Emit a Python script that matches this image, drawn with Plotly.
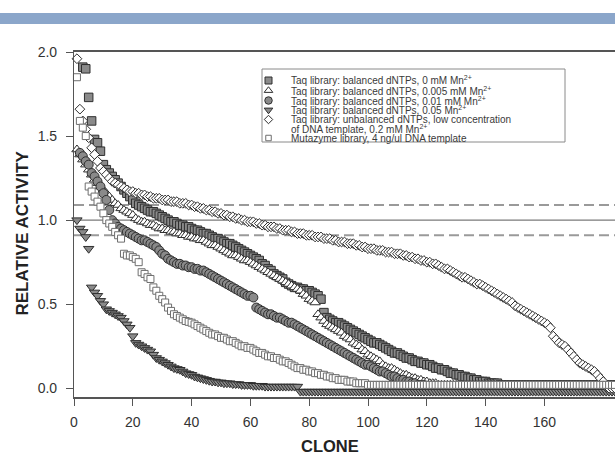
import plotly.graph_objects as go

# ---------------- data ----------------
x_ticks = [0, 20, 40, 60, 80, 100, 120, 140, 160]
y_ticks = [0.0, 0.5, 1.0, 1.5, 2.0]

legend_lines = [
    "Taq library: balanced dNTPs, 0 mM Mn<sup>2+</sup>",
    "Taq library: balanced dNTPs, 0.005 mM Mn<sup>2+</sup>",
    "Taq library: balanced dNTPs, 0.01 mM Mn<sup>2+</sup>",
    "Taq library: balanced dNTPs, 0.05 Mn<sup>2+</sup>",
    "Taq library: unbalanced dNTPs, low concentration",
    "of DNA template, 0.2 mM Mn<sup>2+</sup>",
    "Mutazyme library, 4 ng/ul DNA template",
]

# first clone number of each series
start_mn0 = 3
start_mn0005 = 1
start_mn001 = 2
start_mn005 = 1
start_unbal = 1
start_muta = 1

act_mn0 = [
    1.91, 1.90, 1.73, 1.59, 1.48, 1.46, 1.41, 1.33, 1.30, 1.28,
    1.26, 1.24, 1.22, 1.20, 1.18, 1.16, 1.14, 1.12, 1.10, 1.09,
    1.08, 1.07, 1.06, 1.05, 1.05, 1.04, 1.03, 1.02, 1.01, 1.00,
    0.99, 0.99, 0.98, 0.97, 0.97, 0.96, 0.96, 0.95, 0.94, 0.94,
    0.93, 0.92, 0.92, 0.91, 0.90, 0.89, 0.89, 0.88, 0.87, 0.86,
    0.86, 0.85, 0.84, 0.83, 0.82, 0.81, 0.80, 0.79, 0.78, 0.77,
    0.76, 0.74, 0.73, 0.71, 0.70, 0.68, 0.67, 0.66, 0.65, 0.63,
    0.62, 0.61, 0.60, 0.60, 0.59, 0.59, 0.58, 0.58, 0.57, 0.56,
    0.55, 0.53, 0.45, 0.42, 0.41, 0.40, 0.39, 0.39, 0.38, 0.37,
    0.36, 0.35, 0.34, 0.33, 0.32, 0.31, 0.30, 0.29, 0.28, 0.27,
    0.27, 0.26, 0.25, 0.24, 0.23, 0.22, 0.21, 0.21, 0.20, 0.19,
    0.18, 0.18, 0.17, 0.16, 0.16, 0.15, 0.15, 0.14, 0.14, 0.13,
    0.12, 0.12, 0.11, 0.11, 0.10, 0.09, 0.09, 0.08, 0.08, 0.07,
    0.07, 0.06, 0.06, 0.05, 0.05, 0.04, 0.04, 0.04, 0.03, 0.03,
    0.03, 0.03, 0.02, 0.02, 0.02, 0.02, 0.02, 0.02, 0.02, 0.02,
    0.02, 0.02, 0.02, 0.02, 0.02, 0.02, 0.02, 0.02, 0.02, 0.02,
    0.02, 0.02, 0.02, 0.02, 0.02, 0.02, 0.02, 0.02, 0.02, 0.02,
    0.02, 0.02, 0.02, 0.02, 0.02, 0.02, 0.02, 0.02, 0.02, 0.02,
    0.02, 0.02,
]

act_mn0005 = [
    1.42, 1.39, 1.36, 1.33, 1.30, 1.27, 1.24, 1.22, 1.20, 1.18,
    1.16, 1.14, 1.12, 1.10, 1.09, 1.07, 1.06, 1.05, 1.04, 1.03,
    1.01, 1.00, 0.99, 0.99, 0.98, 0.97, 0.97, 0.96, 0.95, 0.95,
    0.94, 0.94, 0.93, 0.93, 0.92, 0.92, 0.91, 0.91, 0.90, 0.90,
    0.89, 0.89, 0.88, 0.88, 0.87, 0.86, 0.85, 0.85, 0.84, 0.83,
    0.82, 0.81, 0.80, 0.79, 0.79, 0.78, 0.77, 0.76, 0.76, 0.75,
    0.74, 0.73, 0.72, 0.71, 0.70, 0.69, 0.68, 0.67, 0.66, 0.65,
    0.64, 0.63, 0.62, 0.61, 0.60, 0.59, 0.58, 0.56, 0.55, 0.53,
    0.52, 0.51, 0.44, 0.42, 0.40, 0.38, 0.37, 0.36, 0.35, 0.34,
    0.33, 0.31, 0.30, 0.29, 0.27, 0.26, 0.25, 0.23, 0.22, 0.20,
    0.19, 0.18, 0.17, 0.16, 0.14, 0.13, 0.12, 0.12, 0.11, 0.10,
    0.09, 0.08, 0.08, 0.07, 0.06, 0.06, 0.05, 0.05, 0.04, 0.04,
    0.03, 0.03, 0.03, 0.02, 0.02, 0.02, 0.02, 0.02, 0.02, 0.02,
    0.02, 0.02, 0.02, 0.02, 0.02, 0.02, 0.02, 0.02, 0.02, 0.02,
    0.02, 0.02, 0.02, 0.02, 0.02, 0.02, 0.02, 0.02, 0.02, 0.02,
    0.02, 0.02, 0.02, 0.02, 0.02, 0.02, 0.02, 0.02, 0.02, 0.02,
    0.02, 0.02, 0.02, 0.02, 0.02, 0.02, 0.02, 0.02, 0.02, 0.02,
    0.02, 0.02, 0.02, 0.02, 0.02, 0.02, 0.02, 0.02, 0.02, 0.02,
    0.02, 0.02, 0.02, 0.02,
]

act_mn001 = [
    1.40, 1.38, 1.35, 1.33, 1.28, 1.26, 1.23, 1.20, 1.16, 1.12,
    1.06, 1.00, 0.98, 0.96, 0.95, 0.94, 0.93, 0.92, 0.91, 0.90,
    0.89, 0.88, 0.88, 0.87, 0.86, 0.85, 0.84, 0.82, 0.80, 0.79,
    0.77, 0.76, 0.75, 0.74, 0.74, 0.73, 0.73, 0.72, 0.72, 0.71,
    0.71, 0.70, 0.70, 0.69, 0.68, 0.67, 0.66, 0.65, 0.64, 0.63,
    0.62, 0.61, 0.60, 0.59, 0.58, 0.57, 0.56, 0.55, 0.55, 0.54,
    0.48, 0.47, 0.46, 0.45, 0.44, 0.44, 0.43, 0.42, 0.42, 0.41,
    0.40, 0.39, 0.39, 0.38, 0.37, 0.36, 0.35, 0.34, 0.33, 0.32,
    0.31, 0.30, 0.29, 0.28, 0.27, 0.26, 0.25, 0.24, 0.23, 0.22,
    0.21, 0.20, 0.19, 0.18, 0.17, 0.16, 0.15, 0.14, 0.14, 0.13,
    0.12, 0.11, 0.10, 0.10, 0.09, 0.08, 0.07, 0.07, 0.06, 0.05,
    0.05, 0.04, 0.04, 0.03, 0.03, 0.02, 0.02, 0.02, 0.01, 0.01,
    0.01, 0.01, 0.01, 0.01, 0.01, 0.01, 0.01, 0.01, 0.01, 0.01,
    0.01, 0.01, 0.01, 0.01, 0.01, 0.01, 0.01, 0.01, 0.01, 0.01,
    0.01, 0.01, 0.01, 0.01, 0.01, 0.01, 0.01, 0.01, 0.01, 0.01,
    0.01, 0.01, 0.01, 0.01, 0.01, 0.01, 0.01, 0.01, 0.01, 0.01,
    0.01, 0.01, 0.01, 0.01, 0.01, 0.01, 0.01, 0.01, 0.01, 0.01,
    0.01, 0.01, 0.01, 0.01, 0.01, 0.01, 0.01, 0.01, 0.01, 0.01,
    0.01, 0.01, 0.01,
]

act_mn005 = [
    1.00, 0.95, 0.93, 0.90, 0.83, 0.60, 0.57, 0.55, 0.52, 0.50,
    0.47, 0.46, 0.45, 0.44, 0.43, 0.42, 0.40, 0.38, 0.36, 0.31,
    0.27, 0.26, 0.25, 0.24, 0.23, 0.22, 0.20, 0.18, 0.17, 0.16,
    0.15, 0.14, 0.13, 0.12, 0.115, 0.11, 0.10, 0.09, 0.085, 0.08,
    0.07, 0.065, 0.06, 0.055, 0.05, 0.045, 0.04, 0.04, 0.035, 0.035,
    0.03, 0.03, 0.03, 0.025, 0.025, 0.025, 0.02, 0.02, 0.02, 0.02,
    0.015, 0.015, 0.015, 0.015, 0.01, 0.01, 0.01, 0.01, 0.01, 0.01,
    0.01, 0.01, 0.01, 0.01, 0.01, 0.01, -0.02, -0.02, -0.02, -0.02,
    -0.02, -0.02, -0.02, -0.02, -0.02, -0.02, -0.02, -0.02, -0.02, -0.02,
    -0.02, -0.02, -0.02, -0.02, -0.02, -0.02, -0.02, -0.02, -0.02, -0.02,
    -0.02, -0.02, -0.02, -0.02, -0.02, -0.02, -0.02, -0.02, -0.02, -0.02,
    -0.02, -0.02, -0.02, -0.02, -0.02, -0.02, -0.02, -0.02, -0.02, -0.02,
    -0.02, -0.02, -0.02, -0.02, -0.02, -0.02, -0.02, -0.02, -0.02, -0.02,
    -0.02, -0.02, -0.02, -0.02, -0.02, -0.02, -0.02, -0.02, -0.02, -0.02,
    -0.02, -0.02, -0.02, -0.02, -0.02, -0.02, -0.02, -0.02, -0.02, -0.02,
    -0.02, -0.02, -0.02, -0.02, -0.02, -0.02, -0.02, -0.02, -0.02, -0.02,
    -0.02, -0.02, -0.02, -0.02, -0.02, -0.02, -0.02, -0.02, -0.02, -0.02,
    -0.02, -0.02, -0.02, -0.02, -0.02, -0.02, -0.02, -0.02, -0.02, -0.02,
    -0.02, -0.02, -0.02, -0.02,
]

act_unbal = [
    1.96, 1.66, 1.59, 1.54, 1.49, 1.43, 1.39, 1.35, 1.31, 1.29,
    1.27, 1.25, 1.23, 1.22, 1.21, 1.20, 1.19, 1.18, 1.17, 1.17,
    1.16, 1.16, 1.15, 1.15, 1.14, 1.14, 1.13, 1.13, 1.13, 1.12,
    1.12, 1.12, 1.11, 1.11, 1.11, 1.10, 1.10, 1.10, 1.09, 1.09,
    1.08, 1.08, 1.07, 1.07, 1.06, 1.06, 1.05, 1.05, 1.04, 1.04,
    1.03, 1.03, 1.02, 1.02, 1.01, 1.01, 1.00, 1.00, 0.99, 0.99,
    0.99, 0.98, 0.98, 0.97, 0.97, 0.96, 0.96, 0.96, 0.95, 0.95,
    0.94, 0.94, 0.94, 0.93, 0.93, 0.92, 0.92, 0.92, 0.91, 0.91,
    0.91, 0.90, 0.90, 0.90, 0.89, 0.89, 0.89, 0.88, 0.88, 0.87,
    0.87, 0.87, 0.86, 0.86, 0.86, 0.85, 0.85, 0.84, 0.84, 0.83,
    0.83, 0.83, 0.82, 0.82, 0.82, 0.81, 0.81, 0.81, 0.80, 0.80,
    0.80, 0.79, 0.79, 0.78, 0.78, 0.77, 0.77, 0.76, 0.76, 0.75,
    0.75, 0.74, 0.74, 0.73, 0.72, 0.71, 0.71, 0.70, 0.69, 0.68,
    0.67, 0.66, 0.66, 0.65, 0.64, 0.63, 0.62, 0.62, 0.61, 0.60,
    0.59, 0.58, 0.57, 0.56, 0.55, 0.54, 0.53, 0.52, 0.51, 0.49,
    0.48, 0.47, 0.46, 0.45, 0.44, 0.43, 0.42, 0.41, 0.40, 0.39,
    0.38, 0.36, 0.31, 0.29, 0.27, 0.26, 0.25, 0.23, 0.21, 0.19,
    0.17, 0.15, 0.14, 0.13, 0.12, 0.11, 0.10, 0.08, 0.06, 0.04,
    0.01, 0.00, 0.00, 0.00,
]

act_muta = [
    1.85, 1.59, 1.55, 1.50, 1.20, 1.17, 1.14, 1.11, 1.08, 1.04,
    1.00, 0.98, 0.96, 0.93, 0.91, 0.89, 0.80, 0.79, 0.79, 0.78,
    0.77, 0.75, 0.69, 0.68, 0.66, 0.65, 0.60, 0.58, 0.55, 0.53,
    0.51, 0.48, 0.46, 0.44, 0.43, 0.42, 0.41, 0.40, 0.395, 0.39,
    0.38, 0.37, 0.36, 0.35, 0.34, 0.33, 0.32, 0.32, 0.31, 0.30,
    0.30, 0.29, 0.28, 0.28, 0.27, 0.26, 0.25, 0.25, 0.24, 0.24,
    0.23, 0.22, 0.21, 0.21, 0.20, 0.19, 0.19, 0.18, 0.18, 0.17,
    0.16, 0.16, 0.15, 0.14, 0.13, 0.12, 0.12, 0.11, 0.11, 0.10,
    0.10, 0.09, 0.09, 0.08, 0.08, 0.07, 0.07, 0.06, 0.06, 0.05,
    0.05, 0.05, 0.04, 0.04, 0.04, 0.03, 0.03, 0.03, 0.03, 0.02,
    0.02, 0.02, 0.02, 0.02, 0.02, 0.02, 0.02, 0.02, 0.02, 0.02,
    0.02, 0.02, 0.02, 0.02, 0.02, 0.02, 0.02, 0.02, 0.02, 0.02,
    0.02, 0.02, 0.02, 0.02, 0.02, 0.02, 0.02, 0.02, 0.02, 0.02,
    0.02, 0.02, 0.02, 0.02, 0.02, 0.02, 0.02, 0.02, 0.02, 0.02,
    0.02, 0.02, 0.02, 0.02, 0.02, 0.02, 0.02, 0.02, 0.02, 0.02,
    0.02, 0.02, 0.02, 0.02, 0.02, 0.02, 0.02, 0.02, 0.02, 0.02,
    0.02, 0.02, 0.02, 0.02, 0.02, 0.02, 0.02, 0.02, 0.02, 0.02,
    0.02, 0.02, 0.02, 0.02, 0.02, 0.02, 0.02, 0.02, 0.02, 0.02,
    0.02, 0.02, 0.02, 0.02,
]

ref_line = 1.0
band_hi = 1.09
band_lo = 0.91

# ---------------- styling ----------------
FONT = "Liberation Sans, Arial, Helvetica, sans-serif"
GRAY = "#8a8a8a"
EDGE = "#2e2e2e"

styles = [
    dict(symbol="square", size=8.5, color=GRAY, edge=EDGE),
    dict(symbol="triangle-up", size=9, color="white", edge=EDGE),
    dict(symbol="circle", size=9, color=GRAY, edge=EDGE),
    dict(symbol="triangle-down", size=9, color=GRAY, edge=EDGE),
    dict(symbol="diamond", size=7.5, color="white", edge=EDGE),
    dict(symbol="square", size=7, color="white", edge="#6e6e6e"),
]
data = [
    (start_mn0, act_mn0),
    (start_mn0005, act_mn0005),
    (start_mn001, act_mn001),
    (start_mn005, act_mn005),
    (start_unbal, act_unbal),
    (start_muta, act_muta),
]

W, H = 615, 455
L, R, T, B = 74, 0, 52, 58
PW, PH = W - L - R, H - T - B


def fx(px):
    return (px - L) / PW


def fy(py):
    return (H - B - py) / PH


fig = go.Figure()
for (st, vals), s in zip(data, styles):
    xs = list(range(st, st + len(vals)))
    fig.add_trace(go.Scatter(
        x=xs, y=vals, mode="markers", showlegend=False, cliponaxis=False,
        marker=dict(symbol=s["symbol"], size=s["size"], color=s["color"],
                    line=dict(color=s["edge"], width=1)),
    ))

# reference lines
fig.add_shape(type="line", xref="x", yref="y", x0=0, x1=184, y0=ref_line, y1=ref_line,
              line=dict(color="#7a7a7a", width=1.2), layer="below")
for yv in (band_hi, band_lo):
    fig.add_shape(type="line", xref="x", yref="y", x0=0, x1=184, y0=yv, y1=yv,
                  line=dict(color="#9a9a9a", width=2, dash="10px,5px"), layer="below")

# top blue band
fig.add_shape(type="rect", xref="paper", yref="paper", x0=fx(0), x1=fx(615),
              y0=fy(24), y1=fy(13), line=dict(width=0), fillcolor="#8ba6ca")

# custom legend
fig.add_shape(type="rect", xref="paper", yref="paper", x0=fx(262), x1=fx(565),
              y0=fy(142), y1=fy(69), line=dict(color="#8a8a8a", width=1),
              fillcolor="white", layer="below")
leg_marker_rows = [80.5, 90.5, 100.5, 110, 119.5, 138]
leg_text_rows = [80.5, 90.5, 100.5, 110, 119.5, 128.5, 138]
leg_sizes = [7, 7.5, 7.5, 7.5, 6.5, 5.5]
for s, py, sz in zip(styles, leg_marker_rows, leg_sizes):
    fig.add_trace(go.Scatter(
        x=[fx(268.5)], y=[fy(py)], xaxis="x2", yaxis="y2", mode="markers",
        showlegend=False, cliponaxis=False,
        marker=dict(symbol=s["symbol"], size=sz, color=s["color"],
                    line=dict(color=s["edge"], width=1)),
    ))
for txt, py in zip(legend_lines, leg_text_rows):
    fig.add_annotation(x=fx(290), y=fy(py), xref="paper", yref="paper",
                       text=txt, showarrow=False, xanchor="left", yanchor="middle",
                       align="left", borderpad=0,
                       font=dict(family=FONT, size=10, color="#3a3a3a"))

# axis titles
fig.add_annotation(x=fx(330), y=fy(457), xref="paper", yref="paper", text="<b>CLONE</b>",
                   showarrow=False, font=dict(family=FONT, size=16.5, color="#222"))
fig.add_annotation(x=fx(11), y=fy(233), xref="paper", yref="paper",
                   text="<b>RELATIVE ACTIVITY</b>", textangle=-90,
                   showarrow=False, font=dict(family=FONT, size=17, color="#222"))

fig.update_layout(
    width=W, height=H, margin=dict(l=L, r=R, t=T, b=B),
    paper_bgcolor="white", plot_bgcolor="white", showlegend=False,
    font=dict(family=FONT, size=14, color="#333"),
    xaxis=dict(range=[0, 184], tickvals=x_ticks, ticks="outside", ticklen=7,
               tickcolor="#555", showline=True, linecolor="#555", linewidth=1.5,
               mirror=True, showgrid=False, zeroline=False, ticklabelstandoff=4,
               tickfont=dict(family=FONT, size=14, color="#333")),
    yaxis=dict(range=[-0.052, 2.0], tickvals=y_ticks, tickformat=".1f",
               ticks="outside", ticklen=7, tickcolor="#555", showline=True,
               linecolor="#555", linewidth=1.2, showgrid=False, zeroline=False,
               ticklabelstandoff=6,
               tickfont=dict(family=FONT, size=14, color="#333")),
    xaxis2=dict(domain=[0, 1], range=[0, 1], overlaying="x", visible=False, fixedrange=True),
    yaxis2=dict(domain=[0, 1], range=[0, 1], overlaying="y", visible=False, fixedrange=True),
)

fig.write_html("out.html")
